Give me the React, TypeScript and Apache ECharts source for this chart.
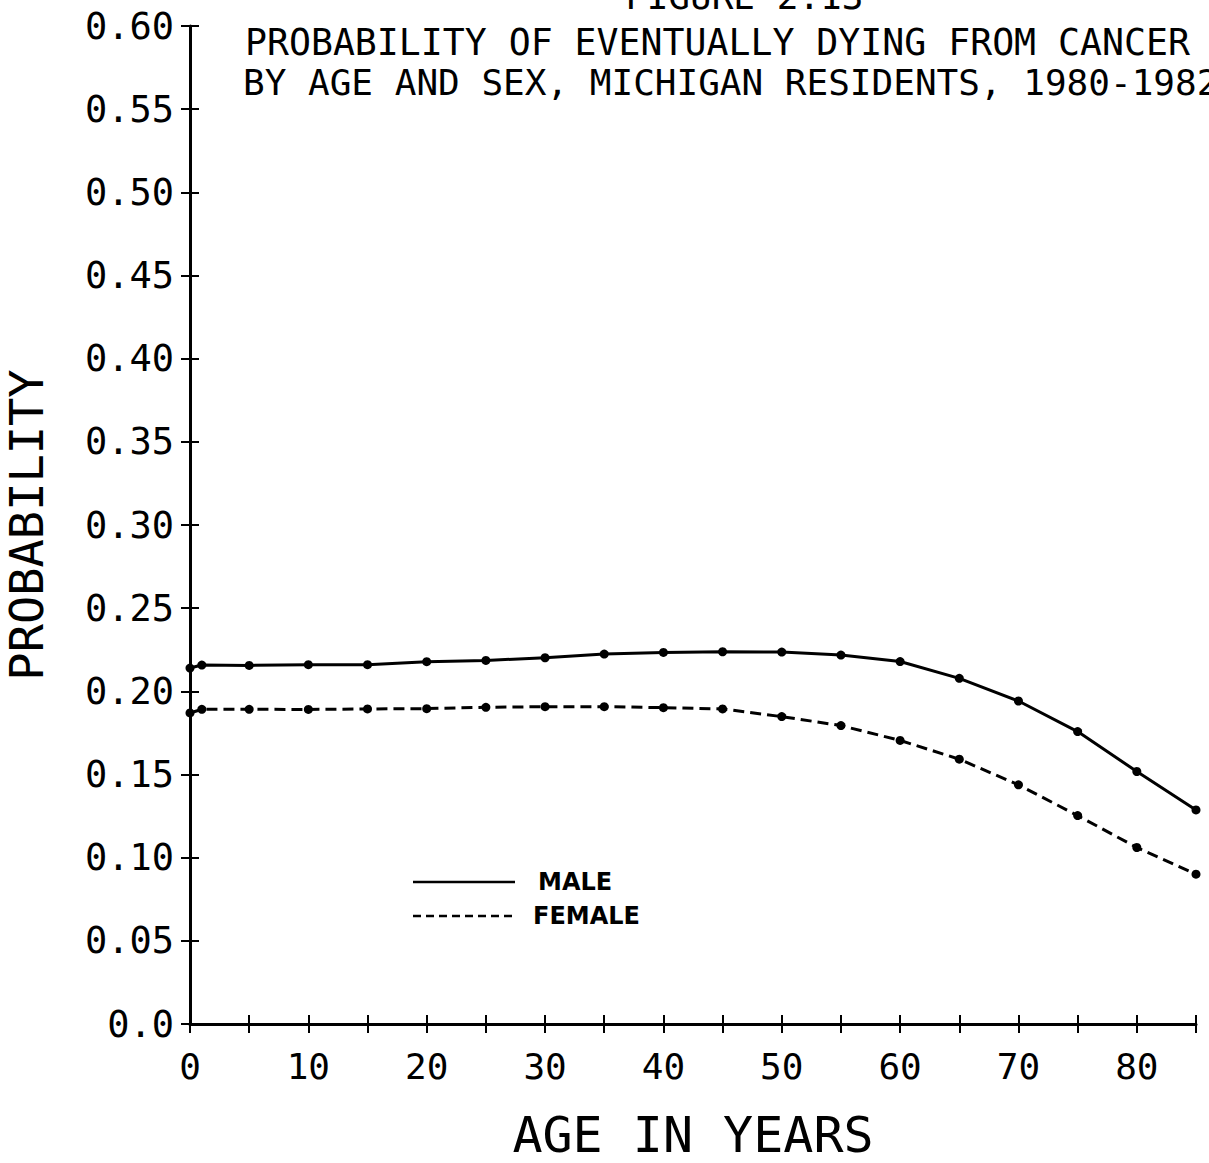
import React, { useEffect, useRef } from "react";
import * as echarts from "echarts";

const ages = [0, 1, 5, 10, 15, 20, 25, 30, 35, 40, 45, 50, 55, 60, 65, 70, 75, 80, 85];
const maleProb = [0.214, 0.2158, 0.2156, 0.216, 0.216, 0.2178, 0.2186, 0.2202, 0.2224, 0.2234, 0.2238, 0.2236, 0.2218, 0.2179, 0.2078, 0.1942, 0.1758, 0.1518, 0.1287];
const femaleProb = [0.187, 0.1892, 0.1892, 0.1891, 0.1894, 0.1896, 0.1904, 0.1908, 0.1908, 0.1902, 0.1894, 0.1848, 0.1794, 0.1705, 0.1592, 0.1438, 0.1253, 0.1061, 0.0901];
const titleLines = [
  "FIGURE 2.13",
  "PROBABILITY OF EVENTUALLY DYING FROM CANCER",
  "BY AGE AND SEX, MICHIGAN RESIDENTS, 1980-1982",
];
const xTitle = "AGE IN YEARS";
const yTitle = "PROBABILITY";
const legendNames = ["MALE", "FEMALE"];

const MONO = "'DejaVu Sans Mono', 'Liberation Mono', monospace";
const SANS = "'DejaVu Sans', 'Liberation Sans', sans-serif";

export default function App() {
  const ref = useRef<HTMLDivElement>(null);
  useEffect(() => {
    document.body.style.margin = "0";
    const chart = echarts.init(ref.current!, null, { renderer: "svg" });
    const axisLine = { show: true, onZero: false, lineStyle: { color: "#000", width: 3 } };
    const tickStyle = { color: "#000", width: 2 };
    chart.setOption({
      animation: false,
      backgroundColor: "#fff",
      grid: { left: 190, right: 13, top: 26, bottom: 139, containLabel: false, outerBoundsMode: "none" },
      xAxis: [
        {
          type: "value",
          min: 0,
          max: 85,
          interval: 5,
          position: "bottom",
          axisLine,
          axisTick: { show: true, inside: false, length: 9, lineStyle: tickStyle },
          axisLabel: {
            formatter: (v: number) => (v % 10 === 0 ? String(v) : ""),
            fontFamily: MONO,
            fontSize: 36,
            color: "#000",
            margin: 24,
          },
          splitLine: { show: false },
          name: xTitle,
          nameLocation: "middle",
          nameGap: 86,
          nameTextStyle: { fontFamily: MONO, fontSize: 50, color: "#000" },
        },
        {
          type: "value",
          min: 0,
          max: 85,
          interval: 5,
          position: "bottom",
          axisLine: { show: false },
          axisTick: { show: true, inside: true, length: 9, lineStyle: tickStyle },
          axisLabel: { show: false },
          splitLine: { show: false },
        },
      ],
      yAxis: [
        {
          type: "value",
          min: 0,
          max: 0.6,
          interval: 0.05,
          position: "left",
          axisLine,
          axisTick: { show: true, inside: false, length: 9, lineStyle: tickStyle },
          axisLabel: {
            formatter: (v: number) => (v === 0 ? "0.0" : v.toFixed(2)),
            fontFamily: MONO,
            fontSize: 37,
            color: "#000",
            margin: 16,
          },
          splitLine: { show: false },
          name: yTitle,
          nameLocation: "middle",
          nameGap: 140,
          nameRotate: 90,
          nameTextStyle: { fontFamily: MONO, fontSize: 47, color: "#000" },
        },
        {
          type: "value",
          min: 0,
          max: 0.6,
          interval: 0.05,
          position: "left",
          axisLine: { show: false },
          axisTick: { show: true, inside: true, length: 9, lineStyle: tickStyle },
          axisLabel: { show: false },
          splitLine: { show: false },
        },
      ],
      series: [
        {
          name: legendNames[0],
          type: "line",
          xAxisIndex: 0,
          yAxisIndex: 0,
          data: ages.map((a, i) => [a, maleProb[i]]),
          symbol: "circle",
          symbolSize: 9,
          showAllSymbol: true,
          lineStyle: { color: "#000", width: 3 },
          itemStyle: { color: "#000" },
        },
        {
          name: legendNames[1],
          type: "line",
          xAxisIndex: 0,
          yAxisIndex: 0,
          data: ages.map((a, i) => [a, femaleProb[i]]),
          symbol: "circle",
          symbolSize: 9,
          showAllSymbol: true,
          lineStyle: { color: "#000", width: 3, type: [11, 6] },
          itemStyle: { color: "#000" },
        },
      ],
      graphic: [
        { type: "text", x: 625, y: -4, style: { text: titleLines[0], fontFamily: MONO, fontSize: 36, fill: "#000", verticalAlign: "middle" } },
        { type: "text", x: 245, y: 42, style: { text: titleLines[1], fontFamily: MONO, fontSize: 36.5, fill: "#000", verticalAlign: "middle" } },
        { type: "text", x: 243, y: 82, style: { text: titleLines[2], fontFamily: MONO, fontSize: 36, fill: "#000", verticalAlign: "middle" } },
        { type: "line", shape: { x1: 413, y1: 882, x2: 515, y2: 882 }, style: { stroke: "#000", lineWidth: 2.5 } },
        { type: "line", shape: { x1: 413, y1: 916, x2: 515, y2: 916 }, style: { stroke: "#000", lineWidth: 2.5, lineDash: [8, 5] } },
        { type: "text", x: 538, y: 882, style: { text: legendNames[0], fontFamily: SANS, fontSize: 24, fontWeight: "bold", fill: "#000", verticalAlign: "middle" } },
        { type: "text", x: 533, y: 916, style: { text: legendNames[1], fontFamily: SANS, fontSize: 24, fontWeight: "bold", fill: "#000", verticalAlign: "middle" } },
      ],
    });
    return () => chart.dispose();
  }, []);
  return <div ref={ref} style={{ width: 1209, height: 1163 }} />;
}
